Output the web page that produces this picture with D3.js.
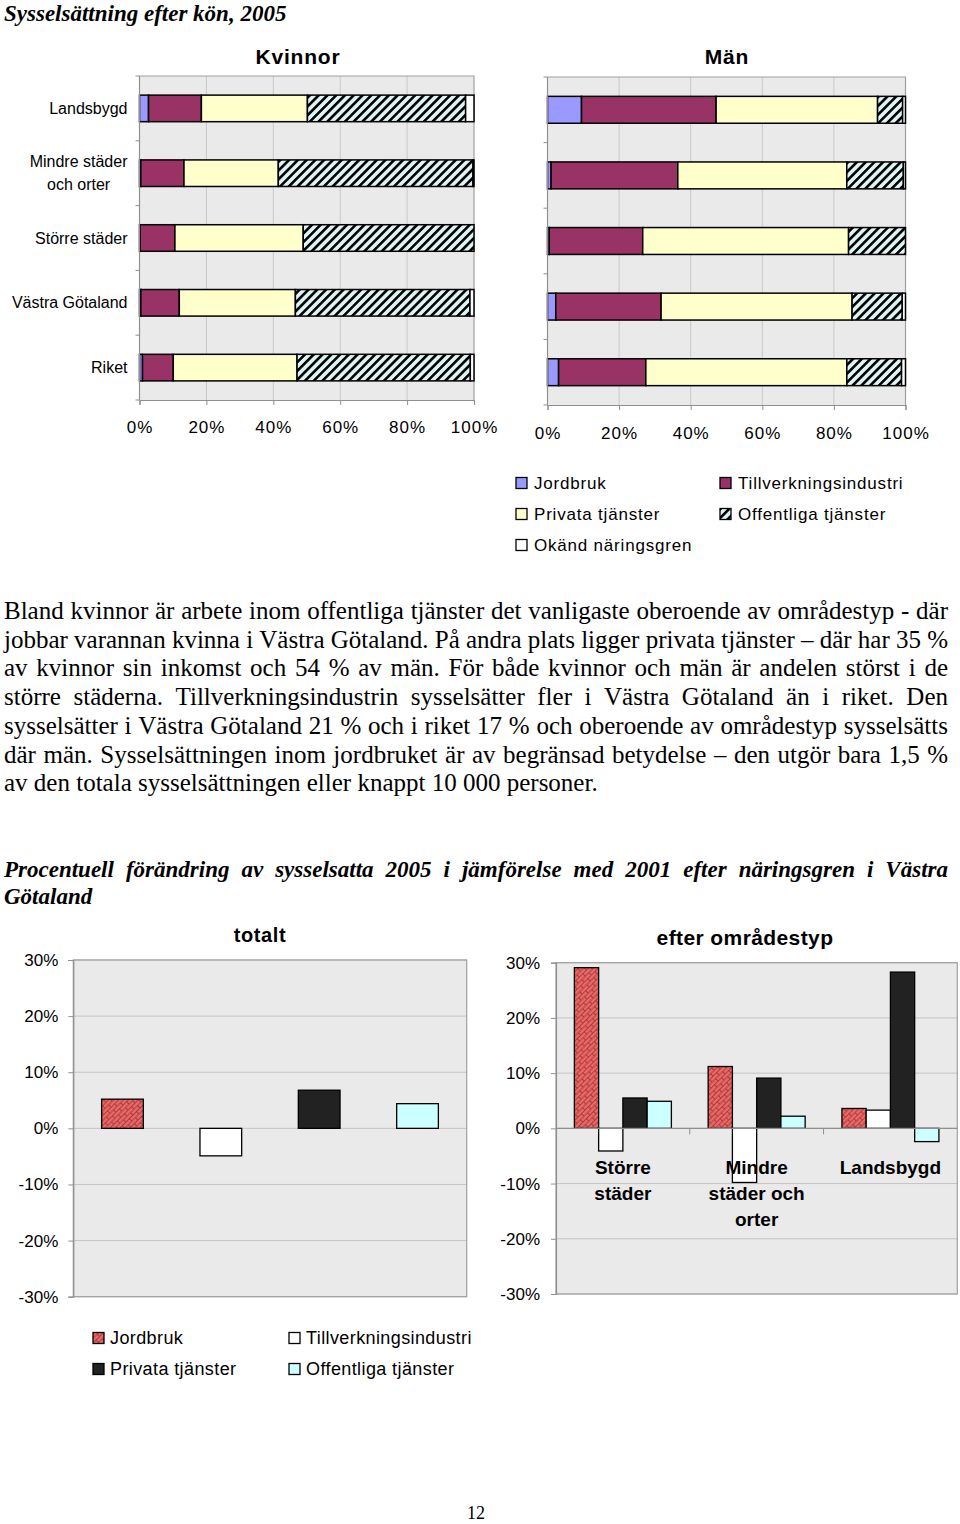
<!DOCTYPE html>
<html><head><meta charset="utf-8">
<script src="https://cdn.jsdelivr.net/npm/d3@7"></script>
<style>
body{margin:0;background:#fff;}
svg{display:block;}
.sans{font-family:"Liberation Sans",Arial,sans-serif;}
.serif{font-family:"Liberation Serif","Times New Roman",serif;}
</style></head>
<body>
<svg id="chart" width="960" height="1524"></svg>
<script>
// ---------- DATA ----------
const topCategories = ["Landsbygd", "Mindre städer och orter", "Större städer", "Västra Götaland", "Riket"];
const topCategoryLines = [["Landsbygd"], ["Mindre städer", "och orter"], ["Större städer"], ["Västra Götaland"], ["Riket"]];
const topSeries = ["Jordbruk", "Tillverkningsindustri", "Privata tjänster", "Offentliga tjänster", "Okänd näringsgren"];

const kvJordbruk    = [2.7, 0.4, 0.2, 0.4, 0.9];
const kvTillverkning= [15.8, 12.9, 10.4, 11.5, 9.2];
const kvPrivata     = [31.7, 28.2, 38.4, 34.7, 37.0];
const kvOffentliga  = [47.3, 58.2, 51.1, 52.2, 51.8];
const kvOkand       = [2.5, 0.3, 0.0, 1.2, 1.1];

const manJordbruk    = [9.5, 1.0, 0.5, 2.3, 3.1];
const manTillverkning= [37.6, 35.4, 26.1, 29.4, 24.4];
const manPrivata     = [45.1, 47.2, 57.5, 53.3, 56.2];
const manOffentliga  = [7.0, 15.8, 15.9, 14.0, 15.3];
const manOkand       = [0.8, 0.6, 0.0, 0.9, 1.1];

const xTicksPct = [0, 20, 40, 60, 80, 100];

const changeSeries = ["Jordbruk", "Tillverkningsindustri", "Privata tjänster", "Offentliga tjänster"];
const totaltValues = [5.2, -4.9, 6.8, 4.4];
const areaCategories = ["Större städer", "Mindre städer och orter", "Landsbygd"];
const areaCategoryLines = [["Större", "städer"], ["Mindre", "städer och", "orter"], ["Landsbygd"]];
const storreValues   = [29.1, -4.1, 5.5, 4.9];
const mindreValues   = [11.2, -9.8, 9.1, 2.2];
const landsbygdValues= [3.6, 3.3, 28.3, -2.4];
const yTicksPct = [-30, -20, -10, 0, 10, 20, 30];

const title1 = "Sysselsättning efter kön, 2005";
const paragraphLines = [
  "Bland kvinnor är arbete inom offentliga tjänster det vanligaste oberoende av områdestyp - där",
  "jobbar varannan kvinna i Västra Götaland. På andra plats ligger privata tjänster – där har 35 %",
  "av kvinnor sin inkomst och 54 % av män. För både kvinnor och män är andelen störst i de",
  "större städerna. Tillverkningsindustrin sysselsätter fler i Västra Götaland än i riket. Den",
  "sysselsätter i Västra Götaland 21 % och i riket 17 % och oberoende av områdestyp sysselsätts",
  "där män. Sysselsättningen inom jordbruket är av begränsad betydelse – den utgör bara 1,5 %",
  "av den totala sysselsättningen eller knappt 10 000 personer."
];
const title2Lines = [
  "Procentuell förändring av sysselsatta 2005 i jämförelse med 2001 efter näringsgren i Västra",
  "Götaland"
];

// ---------- SETUP ----------
const svg = d3.select("#chart");
const defs = svg.append("defs");
const stripe = defs.append("pattern").attr("id", "stripe").attr("patternUnits", "userSpaceOnUse")
  .attr("width", 6.2).attr("height", 10).attr("patternTransform", "rotate(45)");
stripe.append("rect").attr("width", 6.2).attr("height", 10).attr("fill", "#dcf4f4");
stripe.append("rect").attr("width", 2.6).attr("height", 10).attr("fill", "#000");

const brick = defs.append("pattern").attr("id", "brick").attr("patternUnits", "userSpaceOnUse")
  .attr("width", 10).attr("height", 7).attr("patternTransform", "rotate(-45)");
brick.append("rect").attr("width", 10).attr("height", 7).attr("fill", "#f26666");
brick.append("path").attr("d", "M0,0.5H10M0,4H10M0.5,0.5V4M5.5,4V7.5")
  .attr("stroke", "#7a3030").attr("stroke-width", 0.7).attr("fill", "none");

const topFill = {
  "Jordbruk": "#9999ff", "Tillverkningsindustri": "#993366", "Privata tjänster": "#ffffcc",
  "Offentliga tjänster": "url(#stripe)", "Okänd näringsgren": "#ffffff"
};
const bottomFill = {
  "Jordbruk": "url(#brick)", "Tillverkningsindustri": "#ffffff",
  "Privata tjänster": "#222222", "Offentliga tjänster": "#ccffff"
};

// ---------- TEXT ----------
svg.append("text").attr("class", "serif").attr("x", 4).attr("y", 21)
  .attr("font-size", 23).attr("font-weight", "bold").attr("font-style", "italic").text(title1);

function justifiedLine(text, x, y, width, size, opts, justify) {
  const g = svg.append("text").attr("class", "serif").attr("y", y).attr("font-size", size);
  if (opts.bold) g.attr("font-weight", "bold");
  if (opts.italic) g.attr("font-style", "italic");
  const words = text.split(" ");
  const spans = words.map(w => g.append("tspan").text(w));
  const widths = spans.map(s => s.node().getComputedTextLength());
  const total = d3.sum(widths);
  const spaceW = size * 0.25;
  const gap = justify && words.length > 1 ? (width - total) / (words.length - 1) : spaceW;
  let cx = x;
  spans.forEach((s, i) => { s.attr("x", cx); cx += widths[i] + gap; });
}
paragraphLines.forEach((l, i) => justifiedLine(l, 4, 619 + i * 28.7, 944, 25, {}, i < paragraphLines.length - 1));
title2Lines.forEach((l, i) => justifiedLine(l, 4, 877 + i * 26.5, 944, 23, {bold: true, italic: true}, i < title2Lines.length - 1));

svg.append("text").attr("class", "serif").attr("x", 476).attr("y", 1519).attr("text-anchor", "middle")
  .attr("font-size", 18).text("12");

// ---------- TOP STACKED CHARTS ----------
function drawStacked(cfg) {
  const {series, x0, x1, y0, y1, title, titleX, showLabels, labelPad} = cfg;
  const rows = topCategories.map((c, i) => {
    const r = {cat: c};
    topSeries.forEach((s, j) => r[s] = series[j][i]);
    return r;
  });
  const stacked = d3.stack().keys(topSeries).offset(d3.stackOffsetExpand)(rows);
  const x = d3.scaleLinear().domain([0, 1]).range([x0, x1]);
  const y = d3.scaleBand().domain(topCategories).range([y0, y1]).paddingInner(0.59).paddingOuter(0.295);
  const g = svg.append("g");
  g.append("rect").attr("x", x0).attr("y", y0).attr("width", x1 - x0).attr("height", y1 - y0)
    .attr("fill", "#eaeaea");
  g.selectAll("line.grid").data(xTicksPct.slice(1, -1)).join("line")
    .attr("x1", d => x(d / 100)).attr("x2", d => x(d / 100)).attr("y1", y0).attr("y2", y1)
    .attr("stroke", "#c8c8c8").attr("stroke-width", 1);
  g.append("path").attr("d", `M${x0},${y0}H${x1}V${y1}`).attr("fill", "none")
    .attr("stroke", "#a0a0a0").attr("stroke-width", 1.2);

  g.selectAll("g.layer").data(stacked).join("g").attr("fill", d => topFill[d.key])
    .selectAll("rect").data(d => d).join("rect")
    .attr("x", d => x(d[0])).attr("width", d => Math.max(0, x(d[1]) - x(d[0])))
    .attr("y", d => y(d.data.cat)).attr("height", y.bandwidth())
    .attr("stroke", "#000").attr("stroke-width", 1.5);

  // left axis line and boundary ticks
  const bounds = d3.range(topCategories.length + 1).map(i => y0 + i * y.step());
  g.append("line").attr("x1", x0).attr("x2", x0).attr("y1", y0).attr("y2", y1).attr("stroke", "#909090").attr("stroke-width", 1.2);
  g.selectAll("line.bt").data(bounds).join("line").attr("x1", x0 - 4).attr("x2", x0)
    .attr("y1", d => d).attr("y2", d => d).attr("stroke", "#909090");

  const ax = d3.axisBottom(x).tickValues(xTicksPct.map(d => d / 100))
    .tickFormat(d => Math.round(d * 100) + "%").tickSize(5).tickPadding(labelPad);
  const axg = g.append("g").attr("transform", `translate(0,${y1})`).call(ax);
  axg.select(".domain").attr("stroke", "#909090").attr("stroke-width", 1.2);
  axg.selectAll(".tick line").attr("stroke", "#909090");
  axg.selectAll("text").attr("class", "sans").attr("font-size", 17).attr("letter-spacing", 1).attr("fill", "#000");

  if (showLabels) {
    topCategoryLines.forEach((lines, i) => {
      const cy = y(topCategories[i]) + y.bandwidth() / 2;
      const t = g.append("text").attr("class", "sans").attr("font-size", 16).attr("fill", "#000");
      const lh = 23;
      const spans = lines.map((l, k) => t.append("tspan").attr("y", cy + (k - (lines.length - 1) / 2) * lh).attr("dy", "0.35em").text(l));
      const widths = spans.map(s => s.node().getComputedTextLength());
      const maxW = d3.max(widths);
      const right = x0 - 12;
      spans.forEach((s, k) => s.attr("x", right - maxW / 2 - widths[k] / 2));
    });
  }
  svg.append("text").attr("class", "sans").attr("x", titleX).attr("y", 64).attr("text-anchor", "middle")
    .attr("font-size", 21).attr("font-weight", "bold").attr("letter-spacing", 0.8).text(title);
}

drawStacked({series: [kvJordbruk, kvTillverkning, kvPrivata, kvOffentliga, kvOkand],
  x0: 139.5, x1: 474, y0: 76, y1: 400, title: "Kvinnor", titleX: 298, showLabels: true, labelPad: 16});
drawStacked({series: [manJordbruk, manTillverkning, manPrivata, manOffentliga, manOkand],
  x0: 547.5, x1: 905.5, y0: 77, y1: 405, title: "Män", titleX: 727, showLabels: false, labelPad: 17});

// top legend
const topLegendPos = [[516, 483], [720, 483], [516, 514], [720, 514], [516, 545]];
topSeries.forEach((s, i) => {
  const [lx, ly] = topLegendPos[i];
  svg.append("rect").attr("x", lx).attr("y", ly - 5.5).attr("width", 11).attr("height", 11)
    .attr("fill", topFill[s]).attr("stroke", "#000").attr("stroke-width", 1.3);
  svg.append("text").attr("class", "sans").attr("x", lx + 18).attr("y", ly).attr("dy", "0.36em")
    .attr("font-size", 17).attr("letter-spacing", 0.8).text(s);
});

// ---------- BOTTOM COLUMN CHARTS ----------
function columnFrame(x0, x1, y0, y1, labelPad) {
  const y = d3.scaleLinear().domain([-30, 30]).range([y1, y0]);
  const g = svg.append("g");
  g.append("rect").attr("x", x0).attr("y", y0).attr("width", x1 - x0).attr("height", y1 - y0).attr("fill", "#eaeaea");
  g.selectAll("line.grid").data(yTicksPct).join("line").attr("x1", x0).attr("x2", x1)
    .attr("y1", d => y(d)).attr("y2", d => y(d)).attr("stroke", "#c4c4c4");
  g.append("rect").attr("x", x0).attr("y", y0).attr("width", x1 - x0).attr("height", y1 - y0)
    .attr("fill", "none").attr("stroke", "#a0a0a0").attr("stroke-width", 1.2);
  const ax = d3.axisLeft(y).tickValues(yTicksPct).tickFormat(d => d + "%").tickSize(5).tickPadding(labelPad);
  const axg = g.append("g").attr("transform", `translate(${x0},0)`).call(ax);
  axg.select(".domain").attr("stroke", "#909090").attr("stroke-width", 1.2);
  axg.selectAll(".tick line").attr("stroke", "#909090");
  axg.selectAll("text").attr("class", "sans").attr("font-size", 17).attr("fill", "#000");
  return {g, y};
}

// left: totalt
{
  const x0 = 73.3, x1 = 466.7;
  const {g, y} = columnFrame(x0, x1, 960, 1296.7, 10);
  const x = d3.scaleBand().domain(changeSeries).range([x0, x1]).paddingInner(0.576).paddingOuter(0.288);
  g.selectAll("rect.bar").data(changeSeries.map((s, i) => ({s, v: totaltValues[i]}))).join("rect")
    .attr("x", d => x(d.s)).attr("width", x.bandwidth())
    .attr("y", d => y(Math.max(0, d.v))).attr("height", d => Math.abs(y(d.v) - y(0)))
    .attr("fill", d => bottomFill[d.s]).attr("stroke", "#000").attr("stroke-width", 1.3);
  svg.append("text").attr("class", "sans").attr("x", 260).attr("y", 942).attr("text-anchor", "middle")
    .attr("font-size", 20).attr("font-weight", "bold").attr("letter-spacing", 0.6).text("totalt");
}

// right: efter områdestyp
{
  const x0 = 556, x1 = 957.3;
  const {g, y} = columnFrame(x0, x1, 962.7, 1294, 11);
  const xc = d3.scaleBand().domain(areaCategories).range([x0, x1]).padding(0);
  const xs = d3.scaleBand().domain(changeSeries).range([0, xc.bandwidth()]).paddingInner(0).paddingOuter(0.758);
  const vals = [storreValues, mindreValues, landsbygdValues];
  const groups = g.selectAll("g.grp").data(areaCategories).join("g")
    .attr("transform", c => `translate(${xc(c)},0)`);
  groups.selectAll("rect").data(c => changeSeries.map((s, i) => ({s, v: vals[areaCategories.indexOf(c)][i]})))
    .join("rect")
    .attr("x", d => xs(d.s)).attr("width", xs.bandwidth())
    .attr("y", d => y(Math.max(0, d.v))).attr("height", d => Math.abs(y(d.v) - y(0)))
    .attr("fill", d => bottomFill[d.s]).attr("stroke", "#000").attr("stroke-width", 1.3);
  // zero axis with category ticks
  g.append("line").attr("x1", x0).attr("x2", x1).attr("y1", y(0)).attr("y2", y(0)).attr("stroke", "#909090").attr("stroke-width", 1.2);
  g.selectAll("line.ct").data(areaCategories.slice(1)).join("line")
    .attr("x1", c => xc(c)).attr("x2", c => xc(c)).attr("y1", y(0)).attr("y2", y(0) + 6).attr("stroke", "#909090");
  areaCategoryLines.forEach((lines, i) => {
    const cx = xc(areaCategories[i]) + xc.bandwidth() / 2;
    const t = g.append("text").attr("class", "sans").attr("font-size", 19).attr("font-weight", "bold")
      .attr("text-anchor", "middle").attr("fill", "#000");
    lines.forEach((l, k) => t.append("tspan").attr("x", cx).attr("y", y(0) + 46 + k * 26).text(l));
  });
  svg.append("text").attr("class", "sans").attr("x", 745).attr("y", 945).attr("text-anchor", "middle")
    .attr("font-size", 21).attr("font-weight", "bold").attr("letter-spacing", 0.4).text("efter områdestyp");
}

// bottom legend
const bottomLegendPos = [[93, 1338], [289, 1338], [93, 1369], [289, 1369]];
changeSeries.forEach((s, i) => {
  const [lx, ly] = bottomLegendPos[i];
  svg.append("rect").attr("x", lx).attr("y", ly - 5.5).attr("width", 11).attr("height", 11)
    .attr("fill", bottomFill[s]).attr("stroke", "#000").attr("stroke-width", 1.3);
  svg.append("text").attr("class", "sans").attr("x", lx + 17).attr("y", ly).attr("dy", "0.36em")
    .attr("font-size", 18).attr("letter-spacing", 0.4).text(s);
});
</script>
</body></html>
